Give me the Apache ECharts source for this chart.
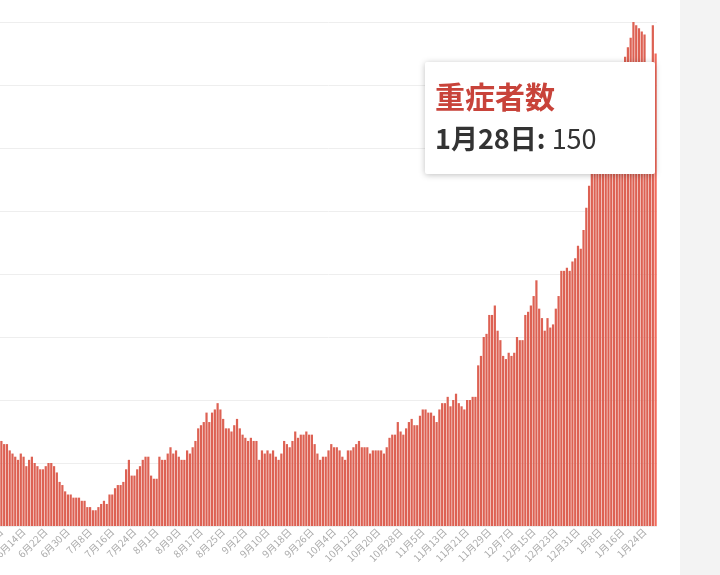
<!DOCTYPE html>
<html>
<head>
<meta charset="utf-8">
<script src="https://cdn.jsdelivr.net/npm/echarts@6/dist/echarts.min.js"></script>
<style>
  html, body { margin: 0; padding: 0; background: #fff; }
  #chart { width: 720px; height: 575px; }
</style>
</head>
<body>
<div id="chart"></div>
<script>
// daily severe cases, last day 1月28日
var values = [
  27,26,26,24,23,22,21,23,22,19,21,22,20,19,18,18,19,20,20,19,17,14,13,11,10,10,9,9,9,8,8,6,6,5,5,6,7,8,7,10,10,12,13,13,14,18,21,16,16,18,19,21,22,22,16,15,15,22,21,21,23,25,23,24,22,21,21,24,23,25,27,31,32,33,36,33,36,37,39,37,34,31,31,30,32,34,31,29,28,27,28,27,27,21,24,23,24,23,24,22,21,23,27,26,25,27,30,28,29,29,30,29,29,26,23,21,22,22,24,26,25,25,24,22,21,24,24,25,26,
  27,25,25,25,23,24,24,24,24,23,25,28,29,29,33,30,29,31,33,34,32,32,35,37,37,36,36,35,33,37,39,39,41,38,40,42,39,38,37,40,40,41,
  41,51,54,60,61,67,67,70,62,59,54,53,55,54,55,60,59,59,67,68,70,73,78,69,66,62,66,63,64,69,73,81,81,82,81,84,85,89,88,94,101,
  108,112,116,119,123,126,129,132,135,138,141,143,146,149,152,
  155,160,159,158,157,156,143,145,159,150
];
var seriesName = '重症者数';
var lastDate = new Date(2021, 0, 28);

var days = [];
for (var i = values.length - 1; i >= 0; i--) {
  var d = new Date(lastDate.getTime() - i * 86400000);
  days.push((d.getMonth() + 1) + '月' + d.getDate() + '日');
}
var n = values.length;

var chart = echarts.init(document.getElementById('chart'));
var option = {
  animation: false,
  textStyle: { fontFamily: 'Noto Sans CJK JP' },
  grid: { left: 0, right: 63, top: 22, bottom: 49, containLabel: false, outerBoundsMode: 'none' },
  graphic: [{
    type: 'rect', right: 0, top: 0,
    shape: { width: 40, height: 575 },
    style: { fill: '#f3f3f3' }
  }],
  tooltip: {
    trigger: 'axis',
    alwaysShowContent: true,
    position: [425, 62],
    backgroundColor: '#fff',
    borderWidth: 0,
    padding: [12, 10, 14, 10],
    extraCssText: 'box-shadow: 0 1px 6px rgba(0,0,0,0.25); border-radius: 2px;',
    axisPointer: { type: 'none' },
    formatter: function (p) {
      return '<div style="font-family:Noto Sans CJK JP;width:210px">' +
        '<div style="color:#c8433a;font-size:30px;font-weight:bold;line-height:42px">' + seriesName + '</div>' +
        '<div style="color:#333;font-size:27px;line-height:44px"><b>' + p[0].name + ':</b> ' + p[0].value + '</div></div>';
    }
  },
  xAxis: {
    type: 'category',
    data: days,
    axisLine: { show: false },
    axisTick: { show: false },
    axisLabel: {
      rotate: 45,
      color: '#aaa',
      fontSize: 10,
      margin: 4,
      interval: function (idx) { return (n - 5 - idx) % 8 === 0; }
    }
  },
  yAxis: {
    type: 'value',
    min: 0, max: 160, interval: 20,
    axisLabel: { show: false },
    splitLine: { lineStyle: { color: '#eee' } }
  },
  series: [{
    name: seriesName,
    type: 'bar',
    data: values,
    barCategoryGap: '20%',
    itemStyle: { color: '#dd6153' }
  }]
};
chart.setOption(option);
chart.dispatchAction({ type: 'showTip', seriesIndex: 0, dataIndex: n - 1 });
</script>
</body>
</html>
